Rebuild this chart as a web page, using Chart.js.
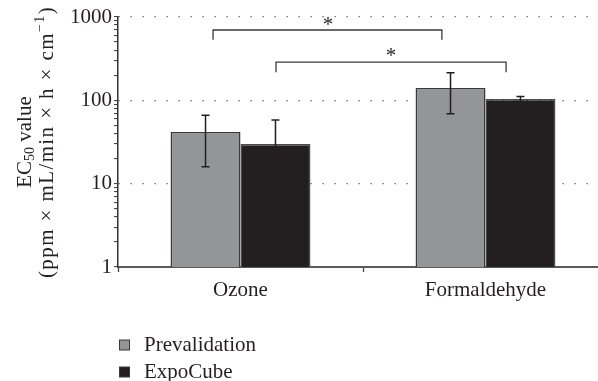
<!DOCTYPE html>
<html>
<head>
<meta charset="utf-8">
<script src="https://cdn.jsdelivr.net/npm/chart.js@4"></script>
<style>
    html, body { margin: 0; padding: 0; overflow: hidden; background: #fff; }
    #wrap { width: 610px; height: 381px; position: relative; }
</style>
</head>
<body>
<div id="wrap"><canvas id="chart"></canvas></div>
<script>
// EC50 bar chart - log scale with error bars and significance brackets

const categories = ['Ozone', 'Formaldehyde'];
const seriesNames = ['Prevalidation', 'ExpoCube'];

// bar heights and error range (low / high)
const prevalidation = [41.7, 141];
const prevalidationLow = [16, 69];
const prevalidationHigh = [66, 215];
const expoCube = [29.9, 104];
const expoCubeLow = [21.5, 97];
const expoCubeHigh = [58, 111];

// y axis ticks (log), labelled only at powers of ten
const yTicks = [1, 2, 3, 4, 5, 6, 7, 8, 9, 10, 20, 30, 40, 50, 60, 70, 80, 90,
                100, 200, 300, 400, 500, 600, 700, 800, 900, 1000];
const yLabels = [1, 10, 100, 1000];

// significance brackets, in category units (x) and data units (y)
const bracketFrom = [-0.112, 0.145];
const bracketTo = [0.822, 1.084];
const bracketTop = [698, 288];
const bracketEnd = [535, 218];
const bracketText = ['*', '*'];
const bracketTextX = [0.357, 0.614];
const bracketTextY = [800, 340];

const FONT = '"Liberation Serif", "Times New Roman", serif';
const INK = '#231f20';

// Error bars drawn over each bar
const errorBars = {
    id: 'errorBars',
    afterDatasetsDraw(chart) {
        const ctx = chart.ctx;
        const y = chart.scales.y;
        const ranges = [[prevalidationLow, prevalidationHigh], [expoCubeLow, expoCubeHigh]];
        ctx.save();
        ctx.strokeStyle = INK;
        ctx.lineWidth = 1.5;
        ranges.forEach((r, d) => {
            chart.getDatasetMeta(d).data.forEach((bar, i) => {
                const lo = y.getPixelForValue(r[0][i]);
                const hi = y.getPixelForValue(r[1][i]);
                ctx.beginPath();
                ctx.moveTo(bar.x, lo); ctx.lineTo(bar.x, hi);
                ctx.moveTo(bar.x - 4, lo); ctx.lineTo(bar.x + 4, lo);
                ctx.moveTo(bar.x - 4, hi); ctx.lineTo(bar.x + 4, hi);
                ctx.stroke();
            });
        });
        ctx.restore();
    }
};

// Brackets with asterisks
const brackets = {
    id: 'brackets',
    afterDatasetsDraw(chart) {
        const ctx = chart.ctx;
        const x = chart.scales.x;
        const y = chart.scales.y;
        const x0 = x.getPixelForValue(0);
        const step = x.getPixelForValue(1) - x0;
        const px = v => x0 + v * step;
        ctx.save();
        ctx.strokeStyle = '#3a3a3a';
        ctx.lineWidth = 1.3;
        ctx.fillStyle = INK;
        ctx.font = '21px ' + FONT;
        ctx.textAlign = 'center';
        ctx.textBaseline = 'middle';
        bracketFrom.forEach((from, i) => {
            const top = y.getPixelForValue(bracketTop[i]);
            const end = y.getPixelForValue(bracketEnd[i]);
            ctx.beginPath();
            ctx.moveTo(px(from), end);
            ctx.lineTo(px(from), top);
            ctx.lineTo(px(bracketTo[i]), top);
            ctx.lineTo(px(bracketTo[i]), end);
            ctx.stroke();
            ctx.fillText(bracketText[i], px(bracketTextX[i]), y.getPixelForValue(bracketTextY[i]));
        });
        ctx.restore();
    }
};

// Draw a run of text pieces (normal / sub / sup) centred at 0
function drawPieces(ctx, pieces) {
    let total = 0;
    pieces.forEach(p => {
        ctx.font = p.size + 'px ' + FONT;
        p.w = ctx.measureText(p.text).width;
        total += p.w;
    });
    let cx = -total / 2;
    pieces.forEach(p => {
        ctx.font = p.size + 'px ' + FONT;
        ctx.fillText(p.text, cx, p.dy);
        cx += p.w;
    });
}

// Rotated y axis title and the legend
const extras = {
    id: 'extras',
    afterDraw(chart) {
        const ctx = chart.ctx;
        const area = chart.chartArea;
        const midY = (area.top + area.bottom) / 2 + 0;
        ctx.save();
        ctx.fillStyle = INK;
        ctx.textBaseline = 'middle';
        ctx.textAlign = 'left';

        ctx.save();
        ctx.translate(25, midY);
        ctx.rotate(-Math.PI / 2);
        drawPieces(ctx, [
            { text: 'EC', size: 21, dy: 0 },
            { text: '50', size: 14, dy: 5 },
            { text: ' value', size: 21, dy: 0 }
        ]);
        ctx.restore();

        ctx.save();
        ctx.translate(47, midY);
        ctx.rotate(-Math.PI / 2);
        ctx.letterSpacing = '1.4px';
        drawPieces(ctx, [
            { text: '(ppm \u00d7 mL/min \u00d7 h \u00d7 cm', size: 21, dy: 0 },
            { text: '\u22121', size: 14, dy: -7 },
            { text: ')', size: 21, dy: 0 }
        ]);
        ctx.restore();

        // legend
        const rows = [345, 372];
        ctx.font = '21px ' + FONT;
        chart.data.datasets.forEach((ds, i) => {
            ctx.fillStyle = ds.backgroundColor;
            ctx.strokeStyle = '#3a3a3a';
            ctx.lineWidth = 1;
            ctx.fillRect(119.5, rows[i] - 5, 10, 10);
            ctx.strokeRect(119.5, rows[i] - 5, 10, 10);
            ctx.fillStyle = INK;
            ctx.fillText(ds.label, 144, rows[i]);
        });
        ctx.restore();
    }
};

const chart = new Chart(document.getElementById('chart'), {
    type: 'bar',
    data: {
        labels: categories,
        datasets: [
            {
                label: seriesNames[0],
                data: prevalidation,
                backgroundColor: '#939598',
                borderColor: '#3a3a3a',
                borderWidth: 1.5,
                categoryPercentage: 0.571,
                barPercentage: 1.0
            },
            {
                label: seriesNames[1],
                data: expoCube,
                backgroundColor: INK,
                borderColor: '#4a4a4a',
                borderWidth: 1.5,
                categoryPercentage: 0.571,
                barPercentage: 1.0
            }
        ]
    },
    options: {
        responsive: true,
        maintainAspectRatio: false,
        animation: false,
        layout: { padding: { top: 17, right: 2, left: 0, bottom: 0 } },
        plugins: {
            legend: { display: false },
            tooltip: { enabled: false }
        },
        scales: {
            x: {
                grid: {
                    drawOnChartArea: false,
                    drawTicks: true,
                    tickLength: 5,
                    tickColor: '#444',
                    tickWidth: 1.3
                },
                border: { color: '#5a5a5a', width: 2 },
                ticks: {
                    color: INK,
                    padding: 6,
                    font: { family: FONT, size: 21 }
                },
                afterFit(scale) { scale.height = 114; }
            },
            y: {
                type: 'logarithmic',
                min: 1,
                max: 1000,
                afterBuildTicks(scale) {
                    scale.ticks = yTicks.map(v => ({ value: v, major: yLabels.includes(v) }));
                },
                afterFit(scale) { scale.width = 118; },
                grid: {
                    color: ctx => (ctx.tick && ctx.tick.value > 1 && yLabels.includes(ctx.tick.value)) ? '#555' : 'rgba(0,0,0,0)',
                    lineWidth: 1.2,
                    tickColor: '#333',
                    tickLength: 4,
                    tickWidth: 1
                },
                border: { color: '#333', width: 1.5, dash: [1.2, 10.8] },
                ticks: {
                    autoSkip: false,
                    color: INK,
                    padding: 2,
                    font: { family: FONT, size: 21 },
                    callback: v => yLabels.includes(v) ? String(v) : ''
                }
            }
        }
    },
    plugins: [errorBars, brackets, extras]
});
</script>
</body>
</html>
